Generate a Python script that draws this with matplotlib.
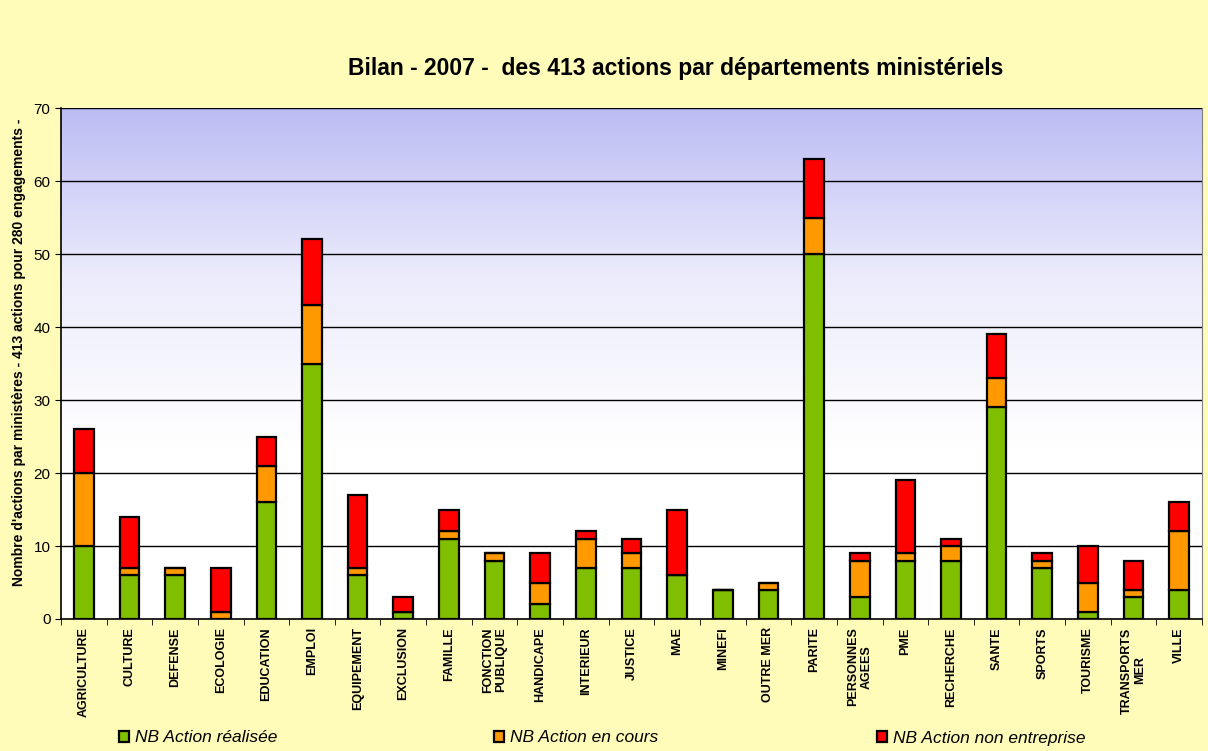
import matplotlib.pyplot as plt
import numpy as np
from matplotlib.colors import LinearSegmentedColormap

# données
categories = ['AGRICULTURE', 'CULTURE', 'DEFENSE', 'ECOLOGIE', 'EDUCATION', 'EMPLOI',
              'EQUIPEMENT', 'EXCLUSION', 'FAMILLE', 'FONCTION\nPUBLIQUE', 'HANDICAPE',
              'INTERIEUR', 'JUSTICE', 'MAE', 'MINEFI', 'OUTRE MER', 'PARITE',
              'PERSONNES\nAGEES', 'PME', 'RECHERCHE', 'SANTE', 'SPORTS', 'TOURISME',
              'TRANSPORTS\nMER', 'VILLE']
realisee = [10, 6, 6, 0, 16, 35, 6, 1, 11, 8, 2, 7, 7, 6, 4, 4, 50, 3, 8, 8, 29, 7, 1, 3, 4]
en_cours = [10, 1, 1, 1, 5, 8, 1, 0, 1, 1, 3, 4, 2, 0, 0, 1, 5, 5, 1, 2, 4, 1, 4, 1, 8]
non_entreprise = [6, 7, 0, 6, 4, 9, 10, 2, 3, 0, 4, 1, 2, 9, 0, 0, 8, 1, 10, 1, 6, 1, 5, 4, 4]
yticks = [0, 10, 20, 30, 40, 50, 60, 70]

plt.rcParams['font.family'] = ['Liberation Sans', 'DejaVu Sans']

fig = plt.figure(figsize=(12.08, 7.51), dpi=100, facecolor='#fffbb8')
ax = fig.add_axes([61/1208, 1-619/751, 1141/1208, 511/751])

# fond dégradé bleu -> blanc
cmap = LinearSegmentedColormap.from_list('fond', ['#ffffff', '#ffffff', '#ececfc', '#bcbcf4'])
grad = np.linspace(0, 1, 256).reshape(-1, 1)
ax.imshow(grad, aspect='auto', cmap=cmap, origin='lower',
          extent=[-0.5, len(categories) - 0.5, 0, 70], zorder=0)

x = np.arange(len(categories))
w = 0.43
b1 = ax.bar(x, realisee, w, color='#7fbf00', edgecolor='black', linewidth=1.6,
            label='NB Action réalisée', zorder=3)
bottom2 = np.array(realisee)
b2 = ax.bar(x, en_cours, w, bottom=bottom2, color='#ff9900', edgecolor='black',
            linewidth=1.6, label='NB Action en cours', zorder=3)
bottom3 = bottom2 + np.array(en_cours)
b3 = ax.bar(x, non_entreprise, w, bottom=bottom3, color='#ff0000', edgecolor='black',
            linewidth=1.6, label='NB Action non entreprise', zorder=3)

ax.set_xlim(-0.5, len(categories) - 0.5)
ax.set_ylim(0, 70)
ax.set_yticks(yticks)
ax.set_yticklabels([str(t) for t in yticks], fontsize=11)
for t in yticks[1:]:
    ax.axhline(t, color='black', linewidth=1, zorder=1)

# ticks x entre les catégories
ax.set_xticks(np.arange(len(categories) + 1) - 0.5, minor=True)
ax.set_xticks(x)
ax.set_xticklabels(categories, rotation=90, fontsize=9, fontweight='bold',
                   va='top', ha='center', linespacing=1.15)
ax.tick_params(axis='x', which='major', length=0, pad=6)
ax.tick_params(axis='x', which='minor', length=4, direction='out')
ax.tick_params(axis='y', length=4, direction='out')

ax.spines['top'].set_visible(False)
ax.spines['right'].set_color('#808080')
ax.spines['left'].set_linewidth(1.2)
ax.spines['bottom'].set_linewidth(1.2)

ax.set_ylabel("Nombre d'actions par ministères - 413 actions pour 280 engagements -",
              fontsize=10, fontweight='bold')
ax.yaxis.set_label_coords(-0.031, 0.522)

fig.text(0.559, 0.909, 'Bilan - 2007 -  des 413 actions par départements ministériels',
         ha='center', va='center', fontsize=16.5, fontweight='bold')

# légende en trois morceaux
for handle, xpos in zip([b1, b2, b3], [119/1208, 494/1208, 877/1208]):
    fig.legend([handle], [handle.get_label()], loc='center left',
               bbox_to_anchor=(xpos, 1-738/751), frameon=False,
               prop={'style': 'italic', 'size': 12.5},
               handlelength=0.6, handleheight=0.6, handletextpad=0.3,
               borderpad=0, borderaxespad=0)

plt.savefig('out.png', dpi=100, facecolor=fig.get_facecolor())
